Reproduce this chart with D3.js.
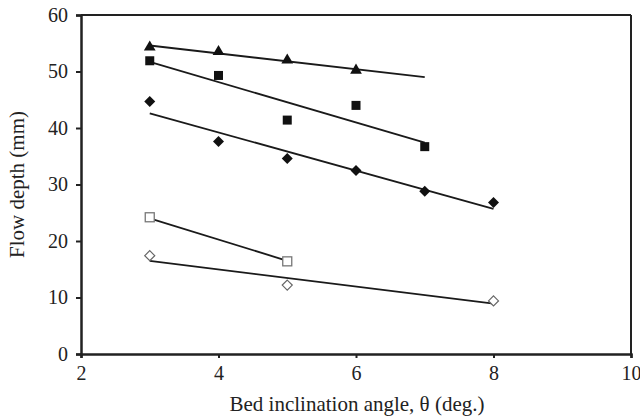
<!DOCTYPE html>
<html><head><meta charset="utf-8">
<script src="https://cdn.jsdelivr.net/npm/d3@7"></script>
<style>body{margin:0;background:#fff}svg{display:block}text{font-family:"Liberation Serif","Times New Roman",serif;fill:#222}</style>
</head><body><svg id="c" width="640" height="419"></svg>
<script>
// Data
const triX = [3, 4, 5, 6];
const triY = [54.3, 53.5, 52.0, 50.2];
const sqX = [3, 4, 5, 6, 7];
const sqY = [51.9, 49.3, 41.4, 44.0, 36.7];
const diaX = [3, 4, 5, 6, 7, 8];
const diaY = [44.7, 37.6, 34.6, 32.5, 28.8, 26.8];
const osqX = [3, 5];
const osqY = [24.2, 16.4];
const odiaX = [3, 5, 8];
const odiaY = [17.4, 12.2, 9.4];
// Trend line endpoints
const triTrend = [[3, 54.6], [7, 49.0]];
const sqTrend = [[3, 51.7], [7, 37.4]];
const diaTrend = [[3, 42.6], [8, 25.7]];
const osqTrend = [[3, 24.0], [5, 16.5]];
const odiaTrend = [[3, 16.5], [8, 8.9]];
const xTicks = [2, 4, 6, 8, 10];
const yTicks = [0, 10, 20, 30, 40, 50, 60];

const svg = d3.select("#c");
const L = 81, R = 631, T = 15, B = 354;
const x = d3.scaleLinear().domain([2, 10]).range([L, R]);
const y = d3.scaleLinear().domain([0, 60]).range([B, T]);

// Frame top/right
svg.append("line").attr("x1", L).attr("x2", R).attr("y1", T).attr("y2", T).attr("stroke", "#222").attr("stroke-width", 2);
svg.append("line").attr("x1", R).attr("x2", R).attr("y1", T).attr("y2", B).attr("stroke", "#222").attr("stroke-width", 2);

const xa = svg.append("g").attr("transform", `translate(0,${B})`)
  .call(d3.axisBottom(x).tickValues(xTicks).tickSize(4).tickPadding(8).tickFormat(d3.format("d")));
const ya = svg.append("g").attr("transform", `translate(${L},0)`)
  .call(d3.axisLeft(y).tickValues(yTicks).tickSize(5).tickPadding(8).tickFormat(d3.format("d")));
[xa, ya].forEach(a => {
  a.select(".domain").attr("stroke", "#222").attr("stroke-width", 2.5);
  a.selectAll(".tick line").attr("stroke", "#222").attr("stroke-width", 2);
  a.selectAll(".tick text").attr("font-size", 20).attr("fill", "#333").style("font-family", '"Liberation Serif",serif');
});

// Trend lines
const line = d3.line().x(d => x(d[0])).y(d => y(d[1]));
[triTrend, sqTrend, diaTrend, osqTrend, odiaTrend].forEach(t => {
  svg.append("path").attr("d", line(t)).attr("fill", "none").attr("stroke", "#1a1a1a").attr("stroke-width", 1.8);
});

function pts(xs, ys) { return xs.map((v, i) => [v, ys[i]]); }
const g = svg.append("g");
// Filled triangles
g.selectAll(".tri").data(pts(triX, triY)).join("path")
  .attr("d", d3.symbol(d3.symbolTriangle, 60)())
  .attr("transform", d => `translate(${x(d[0])},${y(d[1])})`).attr("fill", "#111");
// Filled squares
g.selectAll(".sq").data(pts(sqX, sqY)).join("rect")
  .attr("x", d => x(d[0]) - 4.5).attr("y", d => y(d[1]) - 4.5).attr("width", 9).attr("height", 9).attr("fill", "#111");
// Filled diamonds
g.selectAll(".dia").data(pts(diaX, diaY)).join("path")
  .attr("d", "M0,-5.5L5.5,0L0,5.5L-5.5,0Z")
  .attr("transform", d => `translate(${x(d[0])},${y(d[1])})`).attr("fill", "#111");
// Open squares
g.selectAll(".osq").data(pts(osqX, osqY)).join("rect")
  .attr("x", d => x(d[0]) - 4.5).attr("y", d => y(d[1]) - 4.5).attr("width", 9).attr("height", 9)
  .attr("fill", "#fff").attr("stroke", "#777").attr("stroke-width", 1.3);
// Open diamonds
g.selectAll(".odia").data(pts(odiaX, odiaY)).join("path")
  .attr("d", "M0,-5L5,0L0,5L-5,0Z")
  .attr("transform", d => `translate(${x(d[0])},${y(d[1])})`)
  .attr("fill", "#fff").attr("stroke", "#666").attr("stroke-width", 1.2);

// Axis titles
svg.append("text").attr("x", 357).attr("y", 411).attr("text-anchor", "middle").attr("font-size", 21).attr("fill", "#333")
  .text("Bed inclination angle, θ (deg.)");
svg.append("text").attr("transform", `translate(24,${(T + B) / 2}) rotate(-90)`).attr("text-anchor", "middle").attr("font-size", 21).attr("fill", "#333")
  .text("Flow depth (mm)");
</script></body></html>
